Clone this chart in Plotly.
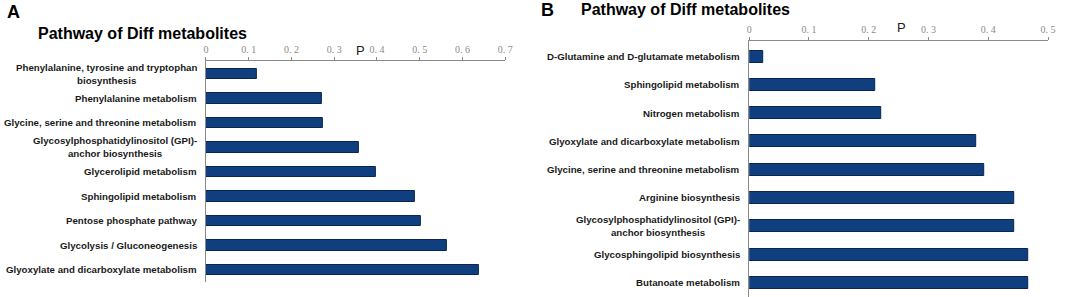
import plotly.graph_objects as go

W, H = 1065, 297

# Panel A data
cats_a = [
    "Phenylalanine, tyrosine and tryptophan<br>biosynthesis",
    "Phenylalanine metabolism",
    "Glycine, serine and threonine metabolism",
    "Glycosylphosphatidylinositol (GPI)-<br>anchor biosynthesis",
    "Glycerolipid metabolism",
    "Sphingolipid metabolism",
    "Pentose phosphate pathway",
    "Glycolysis / Gluconeogenesis",
    "Glyoxylate and dicarboxylate metabolism",
]
vals_a = [0.119, 0.272, 0.273, 0.359, 0.398, 0.488, 0.502, 0.563, 0.639]
ticks_a = [0, 0.1, 0.2, 0.3, 0.4, 0.5, 0.6, 0.7]
ticktext_a = ["0", "0. 1", "0. 2", "0. 3", "0. 4", "0. 5", "0. 6", "0. 7"]

# Panel B data
cats_b = [
    "D-Glutamine and D-glutamate metabolism",
    "Sphingolipid metabolism",
    "Nitrogen metabolism",
    "Glyoxylate and dicarboxylate metabolism",
    "Glycine, serine and threonine metabolism",
    "Arginine biosynthesis",
    "Glycosylphosphatidylinositol (GPI)-<br>anchor biosynthesis",
    "Glycosphingolipid biosynthesis",
    "Butanoate metabolism",
]
vals_b = [0.023, 0.211, 0.221, 0.379, 0.393, 0.443, 0.443, 0.467, 0.467]
ticks_b = [0, 0.1, 0.2, 0.3, 0.4, 0.5]
ticktext_b = ["0", "0. 1", "0. 2", "0. 3", "0. 4", "0. 5"]

BAR = "#0f3f7e"
EDGE = "#0a2550"
AXC = "#8a8a8a"

fig = go.Figure()
fig.add_trace(go.Bar(x=vals_a, y=cats_a, orientation="h", xaxis="x", yaxis="y",
                     marker=dict(color=BAR, line=dict(color=EDGE, width=1)), width=0.43,
                     showlegend=False))
fig.add_trace(go.Bar(x=vals_b, y=cats_b, orientation="h", xaxis="x2", yaxis="y2",
                     marker=dict(color=BAR, line=dict(color=EDGE, width=1)), width=0.42,
                     showlegend=False))

def px_x(p):
    return p / W

def px_y(p):
    return 1 - p / H

xcommon = dict(side="top", showgrid=False, zeroline=False, showline=True, linecolor=AXC,
               linewidth=1, ticks="outside", ticklen=3, tickcolor=AXC, ticklabelstandoff=0,
               tickfont=dict(family="Liberation Serif", size=10, color="#8a8a8a"),
               fixedrange=True)
ycommon = dict(type="category", showgrid=False, zeroline=False, showline=True, linecolor=AXC,
               linewidth=1, showticklabels=False, ticks="")

fig.update_layout(
    width=W, height=H, margin=dict(l=0, r=0, t=0, b=0),
    paper_bgcolor="white", plot_bgcolor="white", bargap=0,
    xaxis=dict(domain=[px_x(205), px_x(507.4)], range=[0, 0.7], anchor="y",
               tickvals=ticks_a, ticktext=ticktext_a, **xcommon),
    yaxis=dict(domain=[px_y(282), px_y(61)], range=[8.5, -0.53], anchor="x",
               categoryarray=cats_a, categoryorder="array", **ycommon),
    xaxis2=dict(domain=[px_x(754), px_x(1056)], range=[0, 0.5], anchor="y2",
                tickvals=ticks_b, ticktext=ticktext_b, **xcommon),
    yaxis2=dict(domain=[px_y(297), px_y(41)], range=[8.5, -0.55], anchor="x2",
                categoryarray=cats_b, categoryorder="array", **ycommon),
)

LABF = dict(family="Liberation Sans", size=9.7, color="#1a1a1a")
anns = []
for c in cats_a:
    anns.append(dict(x=0, y=c, xref="x", yref="y", text="<b>%s</b>" % c, showarrow=False,
                     xanchor="right", yanchor="middle", align="center", xshift=-7, font=LABF))
for c in cats_b:
    anns.append(dict(x=0, y=c, xref="x2", yref="y2", text="<b>%s</b>" % c, showarrow=False,
                     xanchor="right", yanchor="middle", align="center", xshift=-7, font=LABF))

TF = dict(family="Liberation Sans", size=16, color="black")
anns += [
    dict(x=px_x(141), y=px_y(33), xref="paper", yref="paper", text="<b>Pathway of Diff metabolites</b>",
         showarrow=False, xanchor="center", yanchor="middle", font=TF),
    dict(x=px_x(690), y=px_y(10), xref="paper", yref="paper", text="<b>Pathway of Diff metabolites</b>",
         showarrow=False, xanchor="center", yanchor="middle", font=TF),
    dict(x=px_x(11), y=px_y(12), xref="paper", yref="paper", text="<b>A</b>",
         showarrow=False, xanchor="center", yanchor="middle", font=dict(family="Liberation Sans", size=18, color="black")),
    dict(x=px_x(550), y=px_y(10), xref="paper", yref="paper", text="<b>B</b>",
         showarrow=False, xanchor="center", yanchor="middle", font=dict(family="Liberation Sans", size=18, color="black")),
    dict(x=px_x(361), y=px_y(50), xref="paper", yref="paper", text="P",
         showarrow=False, xanchor="center", yanchor="middle", font=dict(family="Liberation Sans", size=13, color="#222")),
    dict(x=px_x(908), y=px_y(27), xref="paper", yref="paper", text="P",
         showarrow=False, xanchor="center", yanchor="middle", font=dict(family="Liberation Sans", size=13, color="#222")),
]
fig.update_layout(annotations=anns)

fig.write_html("out.html", config={"displayModeBar": False},
               post_script="document.body.style.margin='0';document.body.style.padding='0';")
